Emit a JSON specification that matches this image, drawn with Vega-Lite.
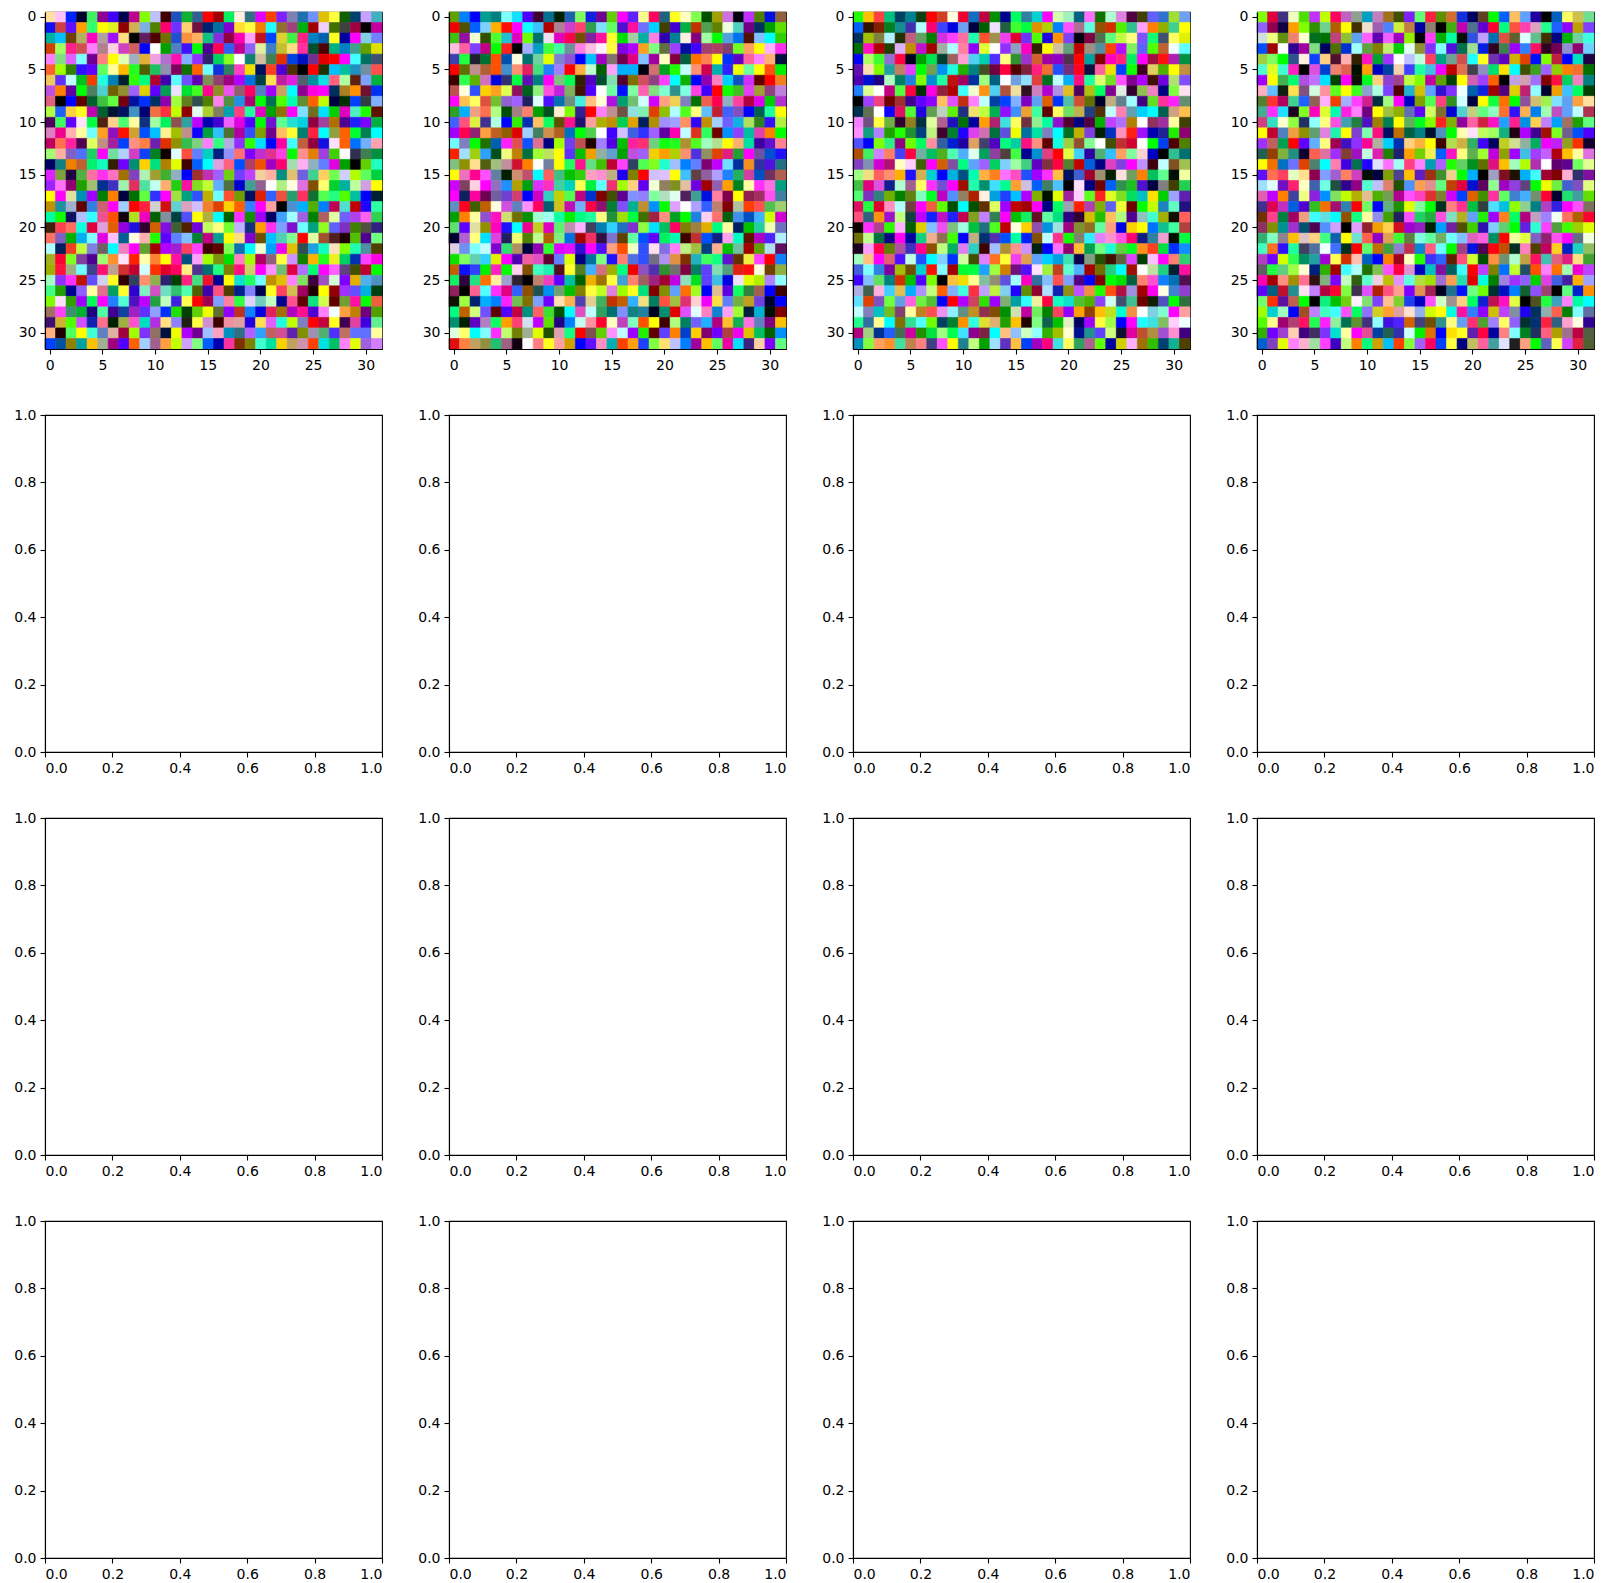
{
  "$schema": "https://vega.github.io/schema/vega-lite/v6.json",
  "background": "white",
  "padding": {"left": 13, "top": 9, "right": 5, "bottom": 4},
  "config": {
    "font": "DejaVu Sans",
    "view": {"stroke": "black", "strokeWidth": 1.1},
    "axis": {
      "labelFont": "DejaVu Sans", "labelFontSize": 14, "labelColor": "black",
      "tickColor": "black", "tickSize": 5, "tickWidth": 1.1,
      "domainColor": "black", "domainWidth": 1.1,
      "labelPadding": 4, "grid": false, "title": null, "labelAngle": 0
    }
  },
  "datasets": {
    "img": [
      {"p":0,"y":0,"c":["#ffe0a0","#ffc0ff","#0020ff","#000030","#40f060","#900090","#4000ff","#000050","#c00090","#80ff00","#c0c0ff","#400000","#2050c0","#10b030","#306090","#ff0000","#a00000","#00f060","#fff0e0","#307080","#e000ff","#ff4000","#8020ff","#8080b0","#2070b0","#7090ff","#e0c000","#ffff40","#106000","#004070","#c8a0ff","#40b0c0"]},
      {"p":0,"y":1,"c":["#1010f0","#d04040","#6010ff","#ffa000","#30ff70","#ffff00","#e0f020","#900000","#d0b050","#80b0e0","#508000","#ff0070","#7030ff","#ffd070","#701040","#002070","#0070a0","#8000d0","#ffe030","#ffff40","#f08000","#20ffff","#907030","#a04080","#00b010","#a00000","#f0d0ff","#407000","#404040","#a00040","#000000","#c000a0"]},
      {"p":0,"y":2,"c":["#00b0a0","#00c0ff","#704000","#b0b060","#ff00c0","#b0a0a0","#a010ff","#ffe080","#000000","#602060","#500000","#707000","#2050d0","#ff9040","#ffb060","#10c080","#8030e0","#900040","#ff00b0","#ffa0ff","#c01020","#0040ff","#e0d030","#40f040","#ff2080","#0080c0","#0060b0","#ffff20","#0000a0","#ff00ff","#80d0e0","#7080ff"]},
      {"p":0,"y":3,"c":["#d04000","#a0ff60","#ff2090","#d05050","#ff80ff","#b08090","#ffd0e0","#d040c0","#d06060","#0000ff","#ffffff","#00a000","#5080c0","#4010ff","#00ff00","#500090","#ff0050","#3060f0","#c00090","#9060ff","#e0f0a0","#4080c0","#c0c030","#ffe080","#ff30a0","#005030","#500000","#00b080","#0080c0","#40a090","#60a000","#e0e000"]},
      {"p":0,"y":4,"c":["#ff80ff","#80e080","#e060ff","#80ffff","#700090","#ff8080","#ffff00","#e0ffb0","#a0b0c0","#e0b030","#f0a0e0","#b070d0","#ff10b0","#80b0ff","#9030ff","#302070","#00d060","#80ff20","#ffffff","#108070","#d0c0a0","#408050","#e03000","#0040e0","#0010c0","#703090","#e00000","#ff0000","#ff00ff","#40ffff","#007060","#405070"]},
      {"p":0,"y":5,"c":["#ff6030","#a0ff00","#308000","#3010ff","#6000ff","#60ff60","#ffffa0","#ffb800","#20ff20","#506000","#20c060","#9090b0","#800060","#107000","#ff6000","#70ffff","#1030e0","#308060","#ff40c0","#f0e000","#001060","#ff4020","#5000d0","#503000","#000000","#ff0000","#203000","#00c0ff","#00c0a0","#2090c0","#7090a0","#ff5050"]},
      {"p":0,"y":6,"c":["#f0c860","#6030ff","#c0ffff","#00c020","#f04000","#20ffe0","#0080b0","#002030","#30ff00","#00ff80","#b00030","#4000b0","#60ffff","#7050ff","#6000b0","#809050","#904070","#a00080","#b000ff","#0070e0","#004040","#ffe050","#c020a0","#e020e0","#506070","#0090a0","#10e0e0","#ff6080","#b0ffa0","#602010","#80a0ff","#00b040"]},
      {"p":0,"y":7,"c":["#c050e0","#ff8000","#6000a0","#00ff00","#508060","#50d0d0","#706000","#909030","#a060ff","#e0d000","#6000ff","#00a050","#f0e0ff","#00e030","#40ff20","#ff0090","#909020","#f050f0","#906070","#ff0060","#5080c0","#a000ff","#d0a060","#00ffff","#900090","#ff00e0","#ff00ff","#003060","#b08020","#ff9000","#701030","#0030f0"]},
      {"p":0,"y":8,"c":["#e06080","#000000","#0000ff","#600000","#006030","#40c040","#60ff40","#700010","#0010a0","#0030ff","#003060","#9000b0","#a0ff40","#608020","#305050","#508000","#ff80f0","#509040","#2090e0","#b00070","#00ff00","#007050","#50ff00","#00ffb0","#609030","#ff6000","#c0ff00","#000040","#003000","#0040ff","#304040","#80b0ff"]},
      {"p":0,"y":9,"c":["#b0ff40","#2060ff","#ffd040","#ffff20","#c000b0","#006030","#001030","#001060","#4090c0","#000070","#f07040","#ff3040","#c0ff00","#900000","#e0fff0","#b0d030","#808060","#00a0b0","#ff4080","#20ffa0","#e000c0","#00a000","#907000","#ff00ff","#80e0ff","#707020","#00e0ff","#00d000","#e000c0","#50f0c0","#20ff00","#601000"]},
      {"p":0,"y":10,"c":["#500060","#40ff60","#6000ff","#ffe0ff","#00ff40","#502010","#ffd090","#50ff70","#ffffa0","#103080","#a0ffa0","#00f060","#905050","#30a0a0","#c000ff","#0000b0","#4000d0","#f060ff","#e000e0","#5000ff","#00ff00","#7010d0","#60ff90","#20e0d0","#00d0e0","#900040","#a040a0","#b07000","#500090","#2020ff","#8000ff","#00b040"]},
      {"p":0,"y":11,"c":["#e080c0","#f00090","#ffb0b0","#ffffa0","#70ffff","#ffa020","#9010c0","#ff1000","#d0a030","#0050ff","#00c0ff","#fff090","#a0c000","#c09090","#1000ff","#00a040","#30c0ff","#507030","#b000a0","#3050ff","#80a000","#700090","#ffc060","#ffff30","#008070","#ff2040","#00ffff","#90a040","#ff6000","#00ff30","#008050","#00ffff"]},
      {"p":0,"y":12,"c":["#c00060","#ff7050","#ff20a0","#500050","#e0ff60","#c09080","#a020a0","#0040ff","#ff9080","#ff8040","#7020b0","#e03000","#909000","#30c050","#80d080","#ff80ff","#30ff80","#b0b0e0","#9030ff","#30ff00","#00e0ff","#0000ff","#ff00a0","#40ffff","#c06040","#900040","#1010e0","#ffe0ff","#ff6000","#0070ff","#70b0ff","#ffa0b0"]},
      {"p":0,"y":13,"c":["#a0ff70","#ffb0a0","#8060c0","#5070ff","#20d060","#ff00ff","#70e0a0","#b0d0ff","#d040c0","#1040ff","#008020","#100000","#e0ffff","#ff5040","#6080ff","#00d0c0","#002080","#9090ff","#ff7070","#8000ff","#c030d0","#e03090","#ff40e0","#00ff00","#ff9090","#e08000","#a040e0","#40d000","#ffffff","#303050","#408050","#009040"]},
      {"p":0,"y":14,"c":["#000060","#108080","#f08000","#c06030","#00f070","#10ffc0","#302000","#7000ff","#009070","#ffd000","#00e080","#b08000","#e0ff00","#400000","#0060ff","#00ffff","#e0a0e0","#ff6080","#0050ff","#b04060","#f05000","#a000c0","#ff0070","#a0e0b0","#ffb0f0","#90b0c0","#6080ff","#e000e0","#00a000","#000000","#60d000","#20ffc0"]},
      {"p":0,"y":15,"c":["#e020ff","#80a040","#200040","#50b040","#ff70a0","#ff30f0","#ff70c0","#a07000","#8040c0","#b0f0b0","#a0a030","#40b030","#90b0c0","#0000ff","#a03030","#c030b0","#a060ff","#70d010","#7040ff","#c040ff","#f0d0a0","#ffb0a0","#009080","#e0c070","#7060e0","#40d090","#ffd060","#70ff50","#d0d0ff","#b0ff00","#60ff60","#00d040"]},
      {"p":0,"y":16,"c":["#a020ff","#ff70ff","#900070","#20a000","#a0c070","#003090","#4030c0","#a0f0b0","#e03060","#50e0a0","#c0fff0","#ffb070","#20d010","#ff10a0","#80e020","#c0ff30","#60b0ff","#507040","#0000d0","#40a090","#906090","#ffffff","#b0f080","#ffffe0","#e070e0","#805000","#ffff70","#00d030","#00b0a0","#c0ffa0","#d0a0e0","#ffff00"]},
      {"p":0,"y":17,"c":["#ffff00","#ff00ff","#e0e0a0","#0090b0","#a000ff","#008000","#ff8000","#000040","#007000","#60ff40","#3030ff","#ff00ff","#a0e040","#00a080","#3050ff","#c0b000","#70ffff","#ff5030","#70a000","#001060","#e02000","#3060ff","#f05040","#20a070","#ff3060","#107030","#50ff50","#20ff80","#50ff00","#00c0a0","#0000ff","#002030"]},
      {"p":0,"y":18,"c":["#c09000","#2090a0","#a0b0d0","#600000","#3080e0","#d06070","#ff00ff","#a0d0ff","#ff0000","#ff2040","#d0d0d0","#d01010","#60d0d0","#e0a0c0","#d0c0ff","#f08030","#e04000","#ffd000","#ff6000","#3080ff","#ff00ff","#ffa0a0","#000000","#5090d0","#00b0ff","#50b000","#0080ff","#c00050","#50e0d0","#c00000","#2000ff","#30ffa0"]},
      {"p":0,"y":19,"c":["#00ffa0","#10ff00","#101060","#b0c0ff","#30ffff","#f05090","#ff5000","#100010","#b0e020","#f000c0","#006000","#8090a0","#004040","#5050ff","#ffff00","#b0b040","#00ffff","#006000","#ff30ff","#109000","#a000ff","#000060","#40a0ff","#a0ffff","#a060e0","#008000","#b06060","#e0ffa0","#7060ff","#b040f0","#ff60f0","#30d050"]},
      {"p":0,"y":20,"c":["#402010","#ff4050","#ff7060","#10ffe0","#e00040","#e0a0e0","#e06000","#9000e0","#2010e0","#300030","#d06000","#8010e0","#406030","#502000","#7000e0","#c0ff60","#ffff80","#70ff30","#c0b0ff","#103080","#ffa000","#ff30f0","#80a0ff","#8010d0","#70ffff","#00a080","#90ff20","#6060ff","#8030c0","#408000","#505040","#302080"]},
      {"p":0,"y":21,"c":["#ff7060","#8060c0","#00b000","#00b0f0","#80ffff","#e000e0","#ffc0ff","#006090","#ffffe0","#ffb0b0","#20ff00","#6000ff","#6080ff","#80c0ff","#008030","#c00080","#00a090","#ffff00","#ffe080","#8000d0","#705000","#00c0ff","#50d0b0","#80ff90","#ff0000","#e0ffa0","#a05030","#502020","#200000","#50c000","#500090","#70ff80"]},
      {"p":0,"y":22,"c":["#b0ffff","#002060","#f04020","#c0ff40","#8080e0","#706060","#00ffff","#f080c0","#ff00ff","#60a030","#a00000","#b000ff","#a020d0","#ff4060","#ff40ff","#400000","#600000","#80ff50","#1070b0","#00ffff","#f0ffd0","#00a0ff","#f000f0","#e0c000","#305050","#20a0e0","#10ffc0","#ffe0c0","#80ff00","#20ffb0","#5090a0","#504000"]},
      {"p":0,"y":23,"c":["#a0b020","#ff0030","#80ff20","#8040a0","#500090","#a0ff70","#ff9030","#ffe0ff","#ff2000","#ffffb0","#ff8030","#ffff00","#ff10a0","#005080","#ffa0ff","#a0ff00","#809010","#00e000","#ff80c0","#a0ff00","#b00060","#906080","#ffff40","#d090ff","#108000","#ffb000","#20ff20","#f0f020","#00d060","#0030b0","#ff40ff","#ff00e0"]},
      {"p":0,"y":24,"c":["#a0b000","#ff1040","#a0b080","#70ffff","#404090","#ff1070","#c0a090","#d03030","#c00030","#d0ffff","#ff3000","#e00030","#ff0060","#fff080","#503090","#007070","#20ff80","#808000","#ff1080","#d0d060","#ff00ff","#ff90ff","#70c070","#e00040","#b070ff","#00ff70","#ff00ff","#ff60ff","#604080","#405000","#c00030","#00ff00"]},
      {"p":0,"y":25,"c":["#a0ffc0","#9030ff","#ff30ff","#c01000","#6050ff","#d0d0f0","#ffff20","#300000","#304060","#ff9070","#90b050","#302070","#004000","#ff2080","#40e080","#f01030","#000090","#ffff00","#10e0d0","#20ff60","#70ffff","#c09000","#e0c000","#ff80ff","#80e060","#400040","#a050c0","#d0ffd0","#8000ff","#e0b000","#50b0f0","#5090c0"]},
      {"p":0,"y":26,"c":["#40ff80","#20a000","#000090","#9060ff","#ffffa0","#e07090","#00a060","#ffff30","#3000d0","#80f0c0","#d050c0","#70e0c0","#30c070","#50ffb0","#506000","#4000b0","#ff5080","#504000","#002090","#8080ff","#000050","#ffff20","#ff4060","#d0c050","#a00060","#200000","#ffff00","#900000","#a030ff","#6050ff","#00b0e0","#004010"]},
      {"p":0,"y":27,"c":["#80ff00","#ffe0ff","#30a000","#a000ff","#00ff50","#ff00ff","#2080ff","#50ffd0","#5010c0","#c000ff","#20a040","#c0ffc0","#4020e0","#ffff50","#ff0000","#a00050","#80a0ff","#ff80a0","#30ff40","#e0d0ff","#70d0c0","#c0ffc0","#000090","#ff5090","#600000","#10e080","#d0ff50","#600000","#70a030","#ff10a0","#00ff00","#f06040"]},
      {"p":0,"y":28,"c":["#a07060","#ff40ff","#409070","#00b030","#200080","#50ffa0","#400090","#1040a0","#a020c0","#6030ff","#90a0ff","#0030ff","#20e000","#004000","#60d000","#f0ff00","#607030","#9000ff","#c03020","#1080ff","#0000e0","#e02060","#a07000","#b000c0","#ff1090","#5000d0","#ff80ff","#f0ffff","#ffa040","#c08000","#700080","#50a000"]},
      {"p":0,"y":29,"c":["#401070","#d0b030","#50ff00","#d050ff","#1020b0","#ff7090","#002000","#a0b040","#ff50d0","#00e0c0","#b030e0","#ffe080","#9080ff","#202010","#ffff40","#d090d0","#400000","#f090a0","#e0a0a0","#2000e0","#ffe050","#e060ff","#20ffe0","#c0ff00","#8080c0","#ff0000","#c00040","#ffff20","#400050","#e040a0","#4000e0","#60f090"]},
      {"p":0,"y":30,"c":["#ffb080","#200000","#50ff60","#ffff00","#40ffd0","#6080c0","#e0b0a0","#a00040","#a0ff00","#8030ff","#907060","#001040","#f0ff00","#b000ff","#700090","#a0c0ff","#ffa0c0","#0090c0","#307080","#b060ff","#30a0ff","#c06060","#d05090","#6020b0","#809000","#a090b0","#50b070","#5030ff","#c07060","#6070ff","#6070ff","#ffffa0"]},
      {"p":0,"y":31,"c":["#0040ff","#0050a0","#908000","#00a0a0","#ffc000","#a0b090","#a00080","#5000ff","#ff6000","#a0d0ff","#a06090","#ffa040","#c0ff00","#d0a0ff","#80ff80","#0060ff","#0000b0","#ff30a0","#803000","#808000","#40ffd0","#00e0a0","#ffd000","#c0a060","#d090b0","#ff4000","#00e0e0","#00c060","#ff80ff","#e0ff00","#a060e0","#d080ff"]},

      {"p":1,"y":0,"c":["#60a000","#0080ff","#0000ff","#00a090","#008080","#80ffff","#10e0ff","#5000ff","#400030","#007090","#002000","#2060b0","#80ff60","#1020e0","#700090","#60d000","#ff00ff","#6020ff","#ffff90","#ff0060","#206080","#ffff20","#ffffc0","#80ff50","#005000","#a0a000","#d070e0","#000010","#c030ff","#508000","#0010e0","#906040"]},
      {"p":1,"y":1,"c":["#f00000","#505000","#0060ff","#80d0ff","#ffb000","#ff1000","#ff00ff","#10ffff","#40c0ff","#b00000","#b08090","#d040d0","#ff4070","#30a050","#80e0ff","#60ff60","#5010d0","#ff10a0","#7070ff","#00d0ff","#404000","#4000d0","#00b040","#c03000","#50a050","#608000","#f0ffe0","#50d0c0","#700080","#003060","#00a000","#60e000"]},
      {"p":1,"y":2,"c":["#40c010","#9010a0","#f0ffd0","#305000","#50ff30","#20c0d0","#e000c0","#70ff00","#007070","#f0e0f0","#e000c0","#ff0050","#705000","#8020a0","#ff10a0","#ffff30","#00e000","#a0d0a0","#00b0a0","#ff80e0","#3000b0","#008090","#fff0e0","#800080","#a0ffa0","#00ff00","#50a0e0","#0070f0","#501000","#80c0ff","#00ffff","#30d000"]},
      {"p":1,"y":3,"c":["#ffc0e0","#ff60a0","#8040ff","#c00080","#00ff00","#ff2020","#000000","#a0b0ff","#00a0c0","#40ff40","#40ffa0","#7090a0","#ff80e0","#ffc0e0","#fff0ff","#ffff40","#8000e0","#b000ff","#ffa020","#80ff80","#607040","#a040ff","#0010a0","#4000ff","#a04070","#b04060","#804070","#70ff20","#ffa060","#ffff00","#ffb0ff","#ff30f0"]},
      {"p":1,"y":4,"c":["#4040b0","#20ff40","#202030","#007030","#ff5000","#0050b0","#ffffe0","#007070","#70d0a0","#e0ff00","#8080d0","#9050d0","#0000ff","#00c0ff","#a000c0","#807070","#700050","#e00080","#80c0ff","#a000a0","#ffffc0","#800040","#006040","#ff7000","#ff8050","#ffff00","#0030ff","#6000c0","#ff60a0","#ff80ff","#ffb070","#001040"]},
      {"p":1,"y":5,"c":["#ff0000","#607000","#c09090","#b06030","#ff5000","#4090d0","#ff9070","#e02060","#40e080","#2080ff","#a080ff","#ff0000","#ffb040","#c0ffd0","#006000","#ffa0ff","#00b0ff","#00b0ff","#000010","#d07070","#00a020","#20ff00","#c0ffff","#ff9070","#d00050","#00b0b0","#3020ff","#f0ff00","#70ffa0","#ffff00","#ff5010","#00f000"]},
      {"p":1,"y":6,"c":["#400000","#30ff50","#60b000","#d070c0","#0000e0","#303070","#00ff40","#6010b0","#008080","#ff00ff","#80c080","#00ff50","#302000","#5000c0","#005030","#80e0b0","#500030","#807000","#d05060","#904080","#ff40ff","#00ffff","#10b000","#0000ff","#9000b0","#ff80c0","#00d0ff","#1050c0","#d030ff","#600000","#ff0000","#f08020"]},
      {"p":1,"y":7,"c":["#c05050","#ffffe0","#3050ff","#ffd000","#ffa020","#e0ff50","#901060","#006020","#90f080","#ff50e0","#c020e0","#80b060","#401000","#5000ff","#ffffff","#70ffa0","#0010ff","#80ffa0","#ff60b0","#80e080","#80ffd0","#309090","#80ffe0","#ff40e0","#4000ff","#ff0000","#10ff00","#40c020","#e040f0","#a0a030","#904080","#c080e0"]},
      {"p":1,"y":8,"c":["#ff00ff","#ffc050","#ffff60","#e05040","#70c030","#9060d0","#a060ff","#202060","#e0ffff","#5010ff","#0070b0","#709080","#40f0e0","#ffc080","#ffffd0","#b010e0","#00a070","#70c070","#d0ffff","#d000ff","#ffa080","#f0d050","#8080c0","#007000","#f06050","#ff0050","#90b0c0","#ff40a0","#b00040","#e000f0","#00d000","#b030d0"]},
      {"p":1,"y":9,"c":["#30a020","#00b0ff","#f0a080","#ff7050","#b0ff80","#005000","#a08080","#ff8070","#00a000","#005020","#fff0d0","#80ff00","#302090","#ff0000","#ff80ff","#c09090","#705040","#90e0e0","#80f0b0","#e04000","#90c000","#b0ffff","#50ff20","#ffff80","#60c0ff","#c02030","#4060ff","#8050c0","#0000ff","#006050","#20ffa0","#ffff00"]},
      {"p":1,"y":10,"c":["#4060ff","#ff5080","#e0f040","#403090","#b0ffe0","#0000ff","#30f000","#0030b0","#ffc060","#10ff60","#605000","#ff1090","#201070","#ffa0a0","#b0b000","#c09000","#00d050","#e0a000","#002060","#b09000","#a090ff","#a0a0ff","#ff9060","#3000ff","#c09000","#a0d0ff","#7060ff","#10b0e0","#b0e060","#308020","#3010ff","#b0f040"]},
      {"p":1,"y":11,"c":["#a000ff","#ff0050","#902070","#ffa040","#c06020","#906000","#e00000","#a0d0ff","#408060","#d09050","#b06020","#0070c0","#00ff00","#50d050","#ffffff","#4000ff","#d0c0ff","#4060e0","#3030ff","#a060ff","#6000a0","#ff00b0","#c0ffff","#e03020","#30ff60","#700000","#0090ff","#9040ff","#00c0a0","#e040b0","#ff8000","#00ff00"]},
      {"p":1,"y":12,"c":["#70ffff","#8080c0","#00ff00","#207000","#0060b0","#ff20ff","#e05050","#1050ff","#e07090","#000080","#a0ff00","#7040f0","#c05050","#200000","#a080ff","#5000e0","#00c000","#ff20a0","#ff3070","#70d080","#10ff10","#20ff20","#b09030","#50ff20","#a0ffc0","#b0e090","#ffff00","#ffb070","#00e0a0","#4000a0","#6010d0","#ff8090"]},
      {"p":1,"y":13,"c":["#ff2000","#a0e0ff","#a0d010","#30a0ff","#005020","#f0ff80","#c08000","#007040","#a0ff30","#c0e060","#ffff00","#6030ff","#00c000","#f0a000","#90b0a0","#60a0d0","#00a000","#c050e0","#a060ff","#f0d000","#ffa000","#b0d000","#ff9070","#5030e0","#909060","#e04000","#e02080","#20a030","#ff00ff","#7050a0","#0050d0","#2010ff"]},
      {"p":1,"y":14,"c":["#80c080","#909000","#ffe090","#506010","#a0c080","#c090a0","#d01030","#ff8000","#ffffff","#7080a0","#ffff00","#20ff60","#ff1090","#60e080","#40c000","#c00030","#ff40ff","#304060","#50ff50","#80ff20","#20ffd0","#a0c0ff","#0080ff","#6080ff","#800070","#c000ff","#70e0ff","#0030a0","#f09020","#3030a0","#5010e0","#207080"]},
      {"p":1,"y":15,"c":["#ffff00","#f070c0","#ff0090","#ff50ff","#6080a0","#002000","#d09070","#c05070","#00ffff","#ff6060","#40c080","#00c000","#30d010","#ffa0c0","#ff90d0","#c0b080","#2000f0","#808000","#ff0000","#d0c0ff","#e0c0ff","#ffff00","#40c0ff","#604040","#9060a0","#b0a0ff","#2080ff","#20b060","#d040a0","#0050c0","#703060","#b06050"]},
      {"p":1,"y":16,"c":["#d000ff","#804060","#ffd0e0","#ff00ff","#9070c0","#2090ff","#b0a000","#00a010","#e030ff","#ff30c0","#40d0a0","#00d0c0","#ffff50","#00f040","#60ffff","#f03070","#a0ff00","#ffd080","#6000f0","#f0ffd0","#908060","#809020","#e0c0a0","#7000e0","#a00000","#9060b0","#ffa000","#008020","#ffffa0","#ff30ff","#ff70e0","#00a080"]},
      {"p":1,"y":17,"c":["#ff00ff","#102060","#ff00a0","#700050","#7060a0","#7040d0","#d04070","#0000ff","#d000c0","#30d0c0","#c0d000","#50ff50","#c00080","#0030d0","#800000","#405000","#600090","#8090ff","#9080ff","#80ffa0","#b0e0c0","#e0fff0","#502060","#40a090","#0010e0","#ff80a0","#800050","#ffff00","#902050","#a03060","#ff50f0","#4080a0"]},
      {"p":1,"y":18,"c":["#6090c0","#ff0020","#406000","#c06000","#ffffe0","#d050e0","#6080c0","#ff90ff","#ff0060","#006070","#d0c020","#c010b0","#70b0ff","#ff0040","#901070","#008030","#8050ff","#00b090","#c09030","#0090ff","#00ff00","#e0a0ff","#ffffff","#b0a0ff","#3060ff","#c08070","#800000","#b0c0a0","#ff4000","#ff5050","#50c050","#a0d070"]},
      {"p":1,"y":19,"c":["#00a000","#ff8000","#ffffa0","#9050d0","#ff10c0","#d0e070","#707000","#009000","#a0ffd0","#a0fff0","#10ffa0","#00f000","#00ff80","#20ffa0","#ffff80","#209040","#a0e000","#00ff40","#407000","#a02040","#ff9080","#00a020","#00ff00","#2080e0","#ffd0f0","#ff7070","#006010","#4090f0","#0050c0","#40b0ff","#d0ff00","#d000d0"]},
      {"p":1,"y":20,"c":["#60e070","#6000ff","#e0e0a0","#909000","#ff00c0","#2010ff","#00ffff","#f00090","#c0d020","#e000c0","#60f070","#c090b0","#ffb0ff","#404060","#0080b0","#30d0ff","#2070c0","#8030d0","#90ff40","#00e0ff","#00c060","#ff0060","#808000","#a08040","#e0b000","#00ff80","#ffffa0","#002060","#00c000","#20d0a0","#f0ffb0","#7070c0"]},
      {"p":1,"y":21,"c":["#000030","#b060d0","#ffff80","#00e0ff","#e040e0","#202060","#f0ff70","#508000","#c0ff90","#b06000","#80f080","#0070e0","#a00000","#f03060","#301040","#8070d0","#604000","#60ffa0","#0050ff","#6000ff","#00f060","#00ffb0","#400000","#c03030","#0050ff","#102080","#ffa0f0","#00ffc0","#601000","#b000c0","#5020ff","#b0f0ff"]},
      {"p":1,"y":22,"c":["#e0d0e0","#7090f0","#80ffff","#c0ffff","#8000d0","#30e070","#b09060","#000040","#9000b0","#30ff30","#e000ff","#e010ff","#3010d0","#ff00ff","#5010ff","#ffa080","#ff5000","#f0ffc0","#3050ff","#ffe0f0","#8070e0","#ff80ff","#c0f080","#a0c040","#004080","#ffb090","#00c000","#70c0a0","#a00000","#60a000","#b0e0f0","#601060"]},
      {"p":1,"y":23,"c":["#10e000","#80ff60","#60d0b0","#30d0ff","#e0f000","#ff00ff","#5000b0","#f060a0","#e050c0","#600030","#6080ff","#e0ff00","#000080","#0070a0","#80ff80","#2010ff","#ff8070","#5070e0","#3050ff","#707080","#b090f0","#e09040","#803000","#20b0c0","#40ff60","#10ff80","#6010d0","#603000","#f0f040","#ff40ff","#ff0000","#1080ff"]},
      {"p":1,"y":24,"c":["#c06000","#1010ff","#3040ff","#00f000","#ff20c0","#00ff00","#ffd0f0","#805000","#40ffc0","#20f0b0","#501020","#ffff30","#508020","#40b0ff","#d07080","#a0b000","#00ff80","#f00000","#9050c0","#5030b0","#309030","#707070","#800040","#008060","#6040ff","#80e0b0","#50a080","#e02010","#ff1010","#ffffe0","#704000","#90b040"]},
      {"p":1,"y":25,"c":["#10f060","#300040","#20e080","#ff7000","#fff0a0","#a0a0d0","#302030","#000000","#c08070","#f040c0","#6000ff","#00c0a0","#006000","#f0b000","#a07000","#ffff40","#40a0d0","#ff8070","#a06060","#a02080","#a00030","#c000e0","#90e0c0","#00e020","#6040ff","#40c0e0","#0000e0","#f0e0ff","#e0ff00","#b0f000","#b080ff","#90ffff"]},
      {"p":1,"y":26,"c":["#902060","#000000","#ff6090","#50ffff","#ff30ff","#e00080","#3060ff","#905000","#205050","#0090f0","#70a070","#00c000","#808000","#ffff40","#c0ff20","#e080e0","#a0ff00","#ffff20","#00e080","#800000","#809000","#60a0ff","#ff7000","#a0ff20","#0000ff","#e0c090","#6000e0","#10ff60","#308040","#a06050","#0000ff","#400000"]},
      {"p":1,"y":27,"c":["#101000","#a0ff40","#002070","#00b0ff","#0080ff","#ff20ff","#70c050","#807000","#80a0ff","#7000ff","#ffe0b0","#ffb050","#5040b0","#e0d090","#40b060","#c03000","#c06000","#30b0ff","#f0e080","#008060","#ff5040","#a0c040","#e03070","#ffd0d0","#f000ff","#ffe040","#6080ff","#70b040","#c0a020","#7040e0","#000030","#0000ff"]},
      {"p":1,"y":28,"c":["#00ff80","#c06000","#d0ff80","#7050ff","#600000","#5000ff","#c00040","#009080","#ff6060","#40e030","#005000","#00ffff","#e050c0","#c0ffff","#30a060","#007070","#8090ff","#108080","#2080a0","#000020","#009070","#e00000","#e050ff","#e0ffff","#ff80c0","#1080d0","#ffa0ff","#a0ff30","#002040","#00b0d0","#001000","#800000"]},
      {"p":1,"y":29,"c":["#009070","#002000","#6000c0","#b080c0","#10ff60","#ffa000","#ff4070","#d0e0f0","#c000ff","#60e000","#200080","#0080ff","#c0fff0","#ff90a0","#ff0030","#ffffc0","#c040c0","#80ffc0","#ff5000","#ffff00","#400000","#b0ff80","#008060","#7060ff","#20b0ff","#b00080","#ffc030","#10b050","#ff70e0","#6080c0","#800080","#ffc000"]},
      {"p":1,"y":30,"c":["#e0ffe0","#ffff70","#00ffff","#80ffff","#ff30ff","#c0ff70","#708000","#a0b090","#e0ff00","#205000","#e0a0b0","#10ff80","#ff0000","#805050","#60d000","#ff90ff","#c0ffff","#a000ff","#20f000","#600000","#6040ff","#ff8000","#0040d0","#ffd000","#800070","#7000ff","#b04040","#f000f0","#e0c000","#00c060","#006000","#0090ff"]},
      {"p":1,"y":31,"c":["#e01010","#ff8040","#c0a060","#909040","#20c070","#a06080","#100010","#ffffff","#ff8080","#ffff20","#ffa0a0","#d0a000","#0000ff","#6010ff","#ff90c0","#00b0b0","#ff4000","#ffa010","#2040ff","#80ff40","#ffe070","#c0c0ff","#0080ff","#a000a0","#ffc000","#60ff60","#f000a0","#00e0ff","#402080","#ffd0a0","#8000ff","#60ff80"]},

      {"p":2,"y":0,"c":["#20ff00","#ffc000","#ff4040","#00c080","#004060","#008090","#104010","#ff0000","#d04020","#ffffe0","#f00030","#1070c0","#c00040","#009000","#000090","#00ff60","#3080a0","#00d0d0","#ff00ff","#d0ffb0","#a0f0c0","#006080","#ff70ff","#107000","#b0ffd0","#e080e0","#500040","#404000","#6060ff","#3070d0","#a0e030","#70a0f0"]},
      {"p":2,"y":1,"c":["#0060ff","#301000","#802000","#008020","#109090","#4030b0","#b0ffff","#ff0070","#4040ff","#0000e0","#70a0f0","#000040","#006000","#f0e0ff","#206040","#40ff30","#00ff40","#e09000","#b0d000","#0080ff","#ff50ff","#b07090","#60ffe0","#905000","#d03000","#50f000","#30c090","#ffa0ff","#ff8000","#90b000","#40d090","#ffff00"]},
      {"p":2,"y":2,"c":["#003060","#a0c000","#808040","#b0f0ff","#203000","#c06080","#60a060","#008000","#d030e0","#ff40ff","#ff70a0","#20ffb0","#ff5030","#a09050","#f040f0","#e00030","#7030ff","#50ff00","#2000e0","#ff9000","#8040ff","#000010","#800040","#507050","#60ff80","#c0ff40","#ffff80","#8050ff","#10ff70","#405070","#ffff60","#e0f000"]},
      {"p":2,"y":3,"c":["#007000","#ff10c0","#b00000","#204000","#e0b0ff","#c09000","#c010d0","#a00000","#a0b0a0","#b0ffff","#ff80a0","#9000ff","#e0ff30","#ffffff","#9030ff","#90a0c0","#ff00c0","#302000","#ffff00","#d0c0a0","#60a080","#c00000","#a09080","#5090a0","#ff4000","#b010ff","#80f060","#6060ff","#50ff00","#c06030","#f0ffff","#60ffff"]},
      {"p":2,"y":4,"c":["#0000ff","#b0ff60","#40ff30","#9070d0","#ff0040","#000020","#00a000","#00e050","#004030","#a06060","#ffa0d0","#50d0f0","#00d0b0","#5030ff","#ffff80","#309030","#a030d0","#d06030","#a000a0","#9000c0","#503050","#ff0000","#00a0a0","#800000","#ff00c0","#ff2080","#00f060","#ff00ff","#a01040","#ff1010","#b020b0","#009040"]},
      {"p":2,"y":5,"c":["#6010b0","#ffe0b0","#80ff00","#20a0a0","#c08060","#e040ff","#00ff00","#70a050","#0090f0","#20ffe0","#20b000","#008080","#405020","#700040","#ff0040","#500000","#802040","#ff2080","#f07030","#2050ff","#703080","#ff0020","#101040","#ff60a0","#f0e000","#0040ff","#10ff00","#400020","#e0d060","#50b000","#ffff00","#c09040"]},
      {"p":2,"y":6,"c":["#5000b0","#0010d0","#200080","#b0ffc0","#008060","#2080e0","#80ff00","#0090d0","#20ffa0","#c01010","#a00060","#0030a0","#a0ff80","#006080","#ffffff","#70a0e0","#90e0ff","#e04040","#007020","#c0ffff","#00b0ff","#ff1080","#20ffa0","#e0ff70","#70e020","#ff50ff","#800090","#b000ff","#401000","#7000e0","#b0e070","#8050ff"]},
      {"p":2,"y":7,"c":["#2080ff","#e0ff90","#ffffff","#c00080","#50ff40","#ff0040","#003000","#ff00e0","#902040","#b00000","#40ffff","#f0ffd0","#ff9010","#50d0f0","#b05040","#f0e0a0","#301020","#d080c0","#b000d0","#b090e0","#e0c020","#500060","#b0c010","#00ff60","#800090","#e0f0e0","#300030","#90c050","#f080c0","#000080","#80ff40","#ffe0f0"]},
      {"p":2,"y":8,"c":["#000000","#a040ff","#f04080","#700000","#a03030","#400090","#6000ff","#9000ff","#ffc060","#e050ff","#c03010","#ff80ff","#c0ffff","#0040a0","#0040ff","#80b0ff","#8000c0","#60a0f0","#e06000","#0030ff","#50c0a0","#d05030","#607000","#000030","#c0b080","#608090","#a0ffff","#400080","#60e020","#ff30a0","#ff20ff","#609070"]},
      {"p":2,"y":9,"c":["#003050","#607050","#ffffff","#1000ff","#e01060","#50ff30","#2000e0","#60a050","#c0d0c0","#60f000","#203080","#f0e070","#c0ff40","#00b050","#9010ff","#4090ff","#f0a030","#40ffa0","#600000","#ffff60","#70e060","#c0b050","#204080","#503000","#c0ffff","#ff80b0","#60a0b0","#00d0ff","#00ffff","#006050","#d0a080","#ffc050"]},
      {"p":2,"y":10,"c":["#f080ff","#705080","#ffff40","#70b040","#300030","#908020","#003040","#e0ffa0","#b06090","#2010c0","#007000","#0000a0","#ffa000","#b02070","#40e0e0","#ffff60","#703040","#90f090","#00ffa0","#9010d0","#500030","#000080","#500040","#00b000","#c040ff","#b070ff","#b08000","#ffffff","#903060","#a030a0","#ffffa0","#404000"]},
      {"p":2,"y":11,"c":["#ff90ff","#10a080","#b080ff","#20a000","#20ff00","#209030","#004080","#c0f080","#400030","#008030","#2000ff","#e040f0","#d070b0","#007040","#6050e0","#f0ff00","#0070a0","#00e0a0","#8080c0","#00ffff","#007020","#c0b000","#8040e0","#002000","#0030c0","#ff90c0","#ff2010","#a010ff","#0000b0","#202090","#20f000","#900070"]},
      {"p":2,"y":12,"c":["#5050ff","#0000ff","#80ff00","#30f080","#900080","#70ff00","#00ff60","#ff90a0","#3060a0","#0020d0","#2000a0","#e0a060","#404070","#5000c0","#00ff80","#00d0a0","#ff1080","#ff9080","#600000","#10ffe0","#a0d040","#905030","#80ff90","#ffffff","#405000","#c03030","#d00030","#ffffff","#00ff00","#0040f0","#500000","#508000"]},
      {"p":2,"y":13,"c":["#b05000","#40f060","#d080ff","#ff8060","#4040ff","#ff0040","#70b0a0","#00c060","#50b020","#50ffb0","#50b0ff","#e0fff0","#00a060","#9040a0","#504040","#40ff40","#000090","#0090d0","#e04080","#ff0000","#e0ff40","#40d0ff","#3000a0","#50b070","#30c0ff","#ffa060","#80ffa0","#ffd0d0","#0000c0","#000000","#30c090","#007070"]},
      {"p":2,"y":14,"c":["#8040c0","#8090b0","#d000d0","#b01070","#ffffc0","#ffd0ff","#406000","#ff00ff","#d06000","#8050a0","#00ff80","#60a0ff","#a060ff","#00d060","#80d0ff","#a0ffa0","#40d080","#6000c0","#803040","#ff0040","#508030","#c00000","#0060e0","#000080","#e040c0","#8040e0","#ff00ff","#c090ff","#400010","#c0ffff","#805020","#a0c050"]},
      {"p":2,"y":15,"c":["#a0ff80","#f0e080","#ff6060","#ff9070","#ffb000","#2010ff","#d0b050","#00d0d0","#0000ff","#00b0e0","#005080","#00ffb0","#ffb040","#ff8020","#ff70ff","#ff50c0","#2050ff","#a000ff","#ff30ff","#ffc040","#001060","#4060d0","#a00030","#a09070","#002000","#ffe0e0","#70a060","#ff8000","#00c060","#60ff90","#001008","#f0ffa0"]},
      {"p":2,"y":16,"c":["#40c040","#e00080","#e050e0","#102090","#b0ffd0","#a06090","#ffff60","#ff30ff","#7050d0","#ff00ff","#a01000","#20ffb0","#009070","#40e0ff","#00ff90","#ffa030","#d0c0e0","#0060ff","#408060","#50c0ff","#000000","#ffe0ff","#000080","#700000","#0060ff","#309050","#20c020","#5010d0","#000040","#808080","#404000","#20d050"]},
      {"p":2,"y":17,"c":["#50ff70","#8030c0","#308080","#70b000","#008000","#608010","#80ffc0","#00ff20","#c000c0","#5090ff","#908060","#b02000","#fff0e0","#00a0e0","#2040ff","#00c0ff","#b000ff","#80b000","#001000","#e0ff00","#a020a0","#ffd0ff","#60ff20","#ff2020","#e0ff20","#80e020","#00e060","#00c0c0","#ffe000","#00d000","#a0a0ff","#6020b0"]},
      {"p":2,"y":18,"c":["#e01060","#20ff40","#e00030","#ff90c0","#b0ffff","#704040","#ff00ff","#f06040","#60ff00","#005000","#00ffff","#005000","#603000","#e0ff60","#a000ff","#c00000","#a00000","#ff00ff","#000080","#00ff60","#a0a0b0","#ff2000","#b040b0","#80b000","#6060f0","#f0ff30","#700000","#00ff00","#c0ff00","#2080c0","#60ffc0","#201080"]},
      {"p":2,"y":19,"c":["#ff5080","#306080","#ff9010","#a010d0","#c0ff80","#104040","#c000ff","#1020ff","#c010c0","#2020ff","#c00050","#80a020","#c080ff","#308050","#ff00ff","#00c000","#10f060","#601020","#60ffa0","#00e080","#300080","#300030","#d0c000","#20c000","#ffc060","#b0ff80","#500090","#90c0c0","#40ffd0","#a0b000","#101000","#ff6060"]},
      {"p":2,"y":20,"c":["#100000","#ff30ff","#b04090","#30ff00","#ffb0ff","#006000","#e0d000","#80c0ff","#f050f0","#80c080","#a0ffe0","#00c040","#207080","#50ff20","#c00000","#ffffe0","#ffd000","#9050b0","#0090e0","#a0e0e0","#a00080","#809030","#907020","#60ffa0","#ffa080","#0000e0","#ffd000","#ffff00","#0070ff","#10c090","#40ffa0","#b04040"]},
      {"p":2,"y":21,"c":["#707000","#c0ff90","#007040","#100080","#ff00f0","#0000a0","#10d080","#f0b090","#907050","#40ff00","#0000ff","#c0b080","#003070","#5030b0","#0050ff","#00ffa0","#0020ff","#805000","#c0ffff","#ff3090","#10ff00","#808070","#30f0ff","#e080ff","#ff90d0","#ff50e0","#ff0070","#102080","#3080a0","#f0a0d0","#001000","#00ff40"]},
      {"p":2,"y":22,"c":["#200020","#ffa0ff","#ff0050","#608000","#b050a0","#4030c0","#ff0090","#905000","#c0ff80","#00b060","#e080f0","#30d0c0","#400000","#a0c0ff","#b09030","#ff9090","#d090ff","#002010","#0000ff","#ff70ff","#900070","#ffc030","#00a050","#70ff80","#20ffd0","#60d040","#00ff20","#ff9020","#ff4020","#00e040","#0030ff","#1090ff"]},
      {"p":2,"y":23,"c":["#a0ffc0","#ffc080","#ff00ff","#e06070","#5010ff","#c0ffe0","#2050ff","#00ffff","#80d0ff","#0030ff","#d0ffa0","#405000","#e080ff","#ff7020","#ffff30","#f040f0","#e0a050","#60a0ff","#00d0ff","#00a0e0","#40e0b0","#100050","#80a080","#205000","#401000","#606040","#e040ff","#004000","#ffc0ff","#ff00ff","#ff8070","#30d070"]},
      {"p":2,"y":24,"c":["#4060e0","#80ffff","#3080e0","#8000a0","#a0c000","#705000","#00d0d0","#ff1000","#80ffff","#a00000","#00ff30","#00ff40","#20a0ff","#a0ff40","#d08000","#701080","#5010ff","#ffe0ff","#a0f040","#c04020","#60ffd0","#50b0ff","#a00000","#707000","#20d080","#00ffff","#a01000","#ffffff","#c0e0a0","#20d080","#002030","#ff10a0"]},
      {"p":2,"y":25,"c":["#4000ff","#80c0ff","#60e060","#008080","#d03000","#00c000","#5000ff","#80ff00","#000000","#ffc040","#f0e000","#ffff90","#80c0a0","#909070","#6050e0","#a0ffff","#ff00c0","#3070a0","#80c0ff","#ff5050","#80a0ff","#500080","#0000ff","#800000","#00ff00","#00e000","#006040","#ff8070","#ff50d0","#1080ff","#0070b0","#501050"]},
      {"p":2,"y":26,"c":["#b0b0e0","#406050","#ffb0e0","#40d0ff","#e0c050","#00b0ff","#b090ff","#c0ff80","#ff6000","#80b0ff","#40ffe0","#ff3040","#c0a0ff","#c0f040","#80d0f0","#2000ff","#609000","#900030","#b0e0ff","#1020b0","#909010","#c050ff","#f09040","#20ff00","#ff5010","#b01040","#a090e0","#a00000","#ff00f0","#ffffe0","#4080d0","#9040d0"]},
      {"p":2,"y":27,"c":["#60e0ff","#e04000","#8050c0","#70ff40","#60a0e0","#ff60e0","#70f040","#50c030","#0000ff","#ff0000","#b000ff","#d04060","#30e000","#a000ff","#80b070","#00a0a0","#30ffff","#f0f0a0","#ff0040","#10ffc0","#10e0d0","#50c030","#50b000","#9040ff","#d0fff0","#405070","#40c090","#700000","#102000","#5050c0","#00ff00","#307040"]},
      {"p":2,"y":28,"c":["#c0ffff","#8080c0","#00c0c0","#70c020","#804070","#ffffa0","#c08020","#ff5050","#f090f0","#90f0ff","#609080","#c09020","#903050","#805000","#009000","#d0e0b0","#c000a0","#70f060","#008000","#ff4060","#9000ff","#ffa000","#904000","#ffc000","#c0e020","#00ffd0","#f09040","#ffffff","#80d0e0","#80ffd0","#ff00ff","#ffa0a0"]},
      {"p":2,"y":29,"c":["#20ff90","#3070a0","#ffff90","#00ffff","#807000","#30e090","#50ffff","#70ff00","#004060","#008030","#ff9000","#30ffe0","#e0e030","#e0b070","#20a000","#ffc000","#200000","#80ff80","#106050","#00c000","#e0f0c0","#000060","#a000ff","#ffff40","#a0ff40","#0000ff","#ff00ff","#20ffff","#40e0e0","#80c060","#ffd0ff","#f0ffff"]},
      {"p":2,"y":30,"c":["#b00080","#a0d080","#003090","#2060ff","#407050","#d000a0","#209000","#00e040","#a0ff80","#00ff50","#40e0ff","#900090","#802040","#00ffff","#ffc080","#90c0ff","#d0ffc0","#90ffff","#30b000","#a0c000","#ffffd0","#001090","#209090","#6040ff","#d0ff80","#101030","#e000a0","#c05030","#b09040","#a050d0","#ff90d0","#400080"]},
      {"p":2,"y":31,"c":["#0090c0","#80ff40","#ffa060","#ff9030","#40e0a0","#c08050","#ff8080","#404080","#ff50ff","#ffff00","#208090","#c0ff80","#00a000","#a0e0ff","#6030c0","#ffc040","#0040ff","#a000c0","#ff0080","#40e0e0","#ffff60","#30a060","#b06090","#60ff00","#0000a0","#d0d000","#ffb0ff","#a07000","#30c000","#004070","#10b090","#504000"]},

      {"p":3,"y":0,"c":["#80ff00","#e00040","#403080","#f0ffc0","#50e000","#c030ff","#c0ff00","#ff0060","#c060c0","#90a090","#00a0c0","#c080c0","#a07020","#405000","#8020ff","#60ff70","#ff2040","#609000","#d07030","#1030e0","#000060","#604020","#00ff00","#0060ff","#ffc060","#60a0ff","#2000a0","#000000","#0060c0","#ffff60","#d0c050","#70e090"]},
      {"p":3,"y":1,"c":["#9060ff","#900050","#100040","#ffa000","#80ff00","#309000","#70d090","#b06000","#ffff00","#403000","#f0e0d0","#a060b0","#5080ff","#d0f040","#c08040","#0000a0","#908070","#000000","#40b010","#c000b0","#507090","#6000d0","#ff0030","#00ff80","#ff5040","#ff40b0","#e0a0c0","#20ff90","#2060ff","#9000ff","#c0a000","#8040ff"]},
      {"p":3,"y":2,"c":["#d0e0e0","#f0ff80","#609010","#f08070","#ffffd0","#007020","#007000","#c04080","#90c030","#60a0f0","#ff60ff","#6000b0","#f060ff","#a000c0","#90f000","#000000","#ff40ff","#00b000","#00ffa0","#001000","#3050e0","#c0a0ff","#0070b0","#e05040","#606030","#e0ffff","#60c090","#403000","#000080","#00b000","#70d0a0","#40ffe0"]},
      {"p":3,"y":3,"c":["#0050ff","#a00000","#ffffff","#300090","#a000a0","#80e080","#000060","#507000","#0030d0","#a0ffff","#60a040","#808000","#c0f070","#00d000","#e0fff0","#909030","#8030ff","#80ffff","#5010e0","#007050","#a0e090","#0020e0","#300020","#408050","#a000ff","#3080ff","#ff1060","#300020","#700050","#9090d0","#900070","#70d0ff"]},
      {"p":3,"y":4,"c":["#a0d040","#80ff60","#00ff00","#305090","#fff0e0","#1040ff","#ffd080","#501030","#ffb0b0","#302000","#ff10c0","#00a030","#a030ff","#ffffff","#c0c0ff","#c0ffe0","#ff4060","#00a080","#70a090","#d05050","#20ffff","#ffff20","#7030b0","#6000c0","#d0b000","#e04000","#0010ff","#80ff00","#c02040","#0000ff","#00e0c0","#200040"]},
      {"p":3,"y":5,"c":["#50ffd0","#e0ff20","#40ffd0","#ff20c0","#000000","#e050e0","#0040d0","#f08070","#e06050","#001000","#ffa000","#0000c0","#0040a0","#f0d0b0","#4040ff","#20ffa0","#40c0e0","#f000ff","#c00000","#e07050","#404050","#9090c0","#00e070","#ffe000","#00ffff","#405000","#40a020","#a060ff","#90d000","#ff8000","#f07030","#007000"]},
      {"p":3,"y":6,"c":["#a000ff","#ffff00","#40b050","#00ff70","#b050e0","#c070ff","#00e0ff","#004000","#ff00ff","#101000","#00ff20","#ffd080","#9040d0","#a04090","#c0ff40","#80ff00","#c000a0","#60a000","#004000","#ffff00","#d060b0","#a040ff","#ff6000","#000000","#c0a0e0","#d0a0b0","#a070ff","#800000","#ff1040","#00d060","#f080c0","#008080"]},
      {"p":3,"y":7,"c":["#ffb0c0","#60c0ff","#102010","#ffe050","#805080","#d0ffe0","#ff90a0","#60ff20","#ffff00","#40ff20","#90a0d0","#b0ffe0","#8040ff","#500000","#20b0d0","#d0c000","#60a0ff","#3010d0","#8030ff","#f0ffff","#0060b0","#1020e0","#a00000","#500080","#e0d000","#c02070","#90ffff","#000030","#f0a000","#40c0ff","#00ff60","#004000"]},
      {"p":3,"y":8,"c":["#508030","#ff3030","#b00060","#40d090","#2060ff","#906050","#ffb0ff","#f04000","#a0b0ff","#ff40ff","#d02090","#003040","#a0ff80","#ff00ff","#0000c0","#80a000","#50ff50","#ff4080","#309020","#d0ffff","#000040","#ffff00","#10ff40","#ff7000","#00ff00","#9050a0","#d0c070","#a0f050","#80e0ff","#60a0f0","#ffa040","#ffe0a0"]},
      {"p":3,"y":9,"c":["#40b090","#ff30ff","#20e0ff","#200020","#80ff20","#ff00c0","#e0ff30","#00ffb0","#ff20e0","#ff80ff","#700080","#ffff00","#a0c040","#90b000","#6070b0","#6000ff","#d0ff60","#807030","#0000d0","#50d0d0","#c0d080","#60ff80","#90ffc0","#ff7030","#3010ff","#ffb050","#0080f0","#a0ffb0","#c050c0","#60a0ff","#c0ffff","#b03050"]},
      {"p":3,"y":10,"c":["#d04080","#30e0c0","#ffffd0","#90ff40","#203060","#90ffff","#ffff80","#ff50e0","#40a0b0","#208040","#5010c0","#a08000","#008050","#ffff00","#60b060","#00ff20","#80ff00","#ff2020","#80b000","#9000a0","#ff60a0","#d02040","#ff10c0","#20a0ff","#ff2090","#0090e0","#ffd050","#c080ff","#00a0ff","#a07060","#20a000","#60ff80"]},
      {"p":3,"y":11,"c":["#ffff00","#c00030","#5080c0","#f0a040","#909000","#60a070","#e080e0","#20f0b0","#ffff00","#8040d0","#80ffb0","#ff1080","#001060","#c07000","#006040","#008080","#001030","#5090c0","#00ff00","#ffffb0","#ffe0ff","#c0ff60","#a0ff60","#10b080","#200010","#b000ff","#400090","#a01000","#80ff20","#706090","#0050ff","#5000ff"]},
      {"p":3,"y":12,"c":["#a030ff","#c06060","#00a050","#ff0000","#6000ff","#60b0ff","#ffff80","#a00050","#4010c0","#9030ff","#ff0090","#b0b0a0","#00d0ff","#0030b0","#ffd080","#ffb040","#ffff00","#400000","#b0e050","#d0b040","#30b060","#4000ff","#000060","#c0d020","#d0e090","#90b0a0","#00b060","#f000ff","#c020ff","#90a020","#ff3000","#100030"]},
      {"p":3,"y":13,"c":["#206050","#904000","#80b040","#209080","#100030","#ff6050","#e070a0","#a030ff","#804030","#a010c0","#c0ffe0","#e020b0","#208000","#202070","#ffa000","#70d000","#f0f050","#0060ff","#ff10c0","#ffff80","#60b050","#a0ff30","#c000e0","#90a000","#a000ff","#40c0e0","#a040ff","#c060ff","#b00010","#ffc000","#ffffa0","#e070e0"]},
      {"p":3,"y":14,"c":["#ffff00","#f07000","#0070c0","#7070ff","#e04000","#508070","#00ffff","#ff80b0","#4000e0","#007050","#2000ff","#e0e0ff","#ff70ff","#a0fff0","#ff4080","#ff80ff","#00a0b0","#b060ff","#20ff00","#60d060","#009020","#607000","#e01080","#ffc000","#a0ffc0","#b0ff00","#b030b0","#ffffff","#600070","#600090","#70ff60","#e0ff90"]},
      {"p":3,"y":15,"c":["#6010ff","#ff7050","#ff4060","#e0ffc0","#ffe090","#900050","#80a0ff","#a060d0","#ff8060","#d040c0","#001000","#000040","#80a000","#504090","#ffc000","#6020c0","#a03010","#409030","#f0d090","#00ff00","#00b0ff","#000000","#a0a0c0","#801020","#201000","#00b0ff","#40ffff","#a00030","#800000","#ffb0d0","#303070","#8010a0"]},
      {"p":3,"y":16,"c":["#a0e0ff","#e0ffff","#7010c0","#ff2070","#ffffc0","#4060b0","#70ffe0","#205040","#300090","#900080","#50ffd0","#c0c0ff","#e08070","#205000","#5090ff","#ffa050","#e09090","#60ff80","#c04000","#e00040","#0010d0","#600060","#90ff90","#a000c0","#9040e0","#604080","#00ff00","#f0ff00","#70f040","#4060d0","#8050c0","#e0ff80"]},
      {"p":3,"y":17,"c":["#e060b0","#c000ff","#ff8000","#4040a0","#f0ff80","#9020e0","#0090ff","#80e060","#c0ff00","#b0b000","#e0c090","#50b000","#70a050","#b00090","#ff50ff","#ff40c0","#e03030","#808030","#d000ff","#0040ff","#e06000","#409000","#ff30a0","#60ff60","#4080d0","#40b0ff","#709070","#ff0030","#000030","#20e070","#40a0a0","#60e000"]},
      {"p":3,"y":18,"c":["#403090","#e00050","#c030c0","#0060e0","#5000d0","#30c020","#f07000","#a01070","#3080b0","#ff0000","#70ff60","#0000ff","#60b080","#209000","#e0ff00","#80ffa0","#00ff00","#003020","#ff8080","#ff3090","#00c040","#304040","#50e0ff","#00c0e0","#90ff00","#90d090","#008080","#b040c0","#3020e0","#ff00ff","#ff50ff","#807060"]},
      {"p":3,"y":19,"c":["#703000","#ff4090","#008040","#a00060","#f0a080","#40ffff","#60e0e0","#00ffff","#905000","#10ff80","#ffffa0","#9090f0","#40a000","#202060","#ff50ff","#20d060","#20b040","#ff50e0","#80e0c0","#b0b020","#60a0ff","#20f000","#a000ff","#ff8020","#00ff60","#b00080","#c0a0c0","#a080ff","#f0fff0","#ff7060","#b06000","#ff0030"]},
      {"p":3,"y":20,"c":["#903060","#809000","#009090","#a030d0","#005070","#500050","#5090ff","#d0a0ff","#000000","#e0a0ff","#902030","#f0a000","#ffd050","#d01020","#a000d0","#9020c0","#002000","#00a0ff","#7020a0","#505000","#40d000","#3010b0","#80d0ff","#60d070","#00ff00","#6020e0","#30ffd0","#ff40ff","#50a040","#40ff00","#a0d000","#e0ff00"]},
      {"p":3,"y":21,"c":["#30b070","#80ffc0","#908090","#ffc000","#e0c0c0","#ffd080","#40ff80","#1060b0","#ffff00","#70e0d0","#ff6050","#9000c0","#e0a050","#40ff30","#608040","#80ffe0","#60ffa0","#70b060","#70ffff","#80c0ff","#e060c0","#ff60e0","#009060","#ff0000","#f0ffa0","#e0ff40","#8060c0","#902070","#ff50f0","#ff00ff","#607080","#f0ffe0"]},
      {"p":3,"y":22,"c":["#40ffc0","#ff7020","#3010ff","#20ffa0","#404060","#5070a0","#f0ffff","#4070ff","#003020","#ff0000","#60ff70","#c07000","#40a040","#9080d0","#c03050","#1080d0","#ff6080","#70ffff","#00ff00","#a04080","#0010e0","#500050","#ff0010","#c05000","#003020","#ff80c0","#504000","#c00060","#ffd020","#0020c0","#20d0c0","#90c060"]},
      {"p":3,"y":23,"c":["#b040c0","#7000ff","#d0ff00","#30ff50","#009060","#20a0a0","#a000d0","#ffff50","#d03000","#ffc0b0","#0060c0","#0000ff","#ff8000","#a00020","#ffffc0","#20ff00","#4030ff","#3060ff","#602000","#ff5080","#d0ff30","#005000","#ff9040","#709070","#b0ffd0","#c0a040","#ff1060","#40c0b0","#e06080","#e02080","#ffe080","#40a030"]},
      {"p":3,"y":24,"c":["#606060","#20ff40","#60d080","#a0ff40","#ffffd0","#002080","#30b000","#a00000","#40ffff","#b0ffff","#207000","#80c050","#ff50ff","#ff0040","#e090d0","#0000c0","#00c0c0","#8010a0","#006060","#40ffff","#ff0000","#c040ff","#808000","#0070ff","#c0ff30","#205060","#ff5000","#ff80ff","#ff7000","#a0ffb0","#f000d0","#c040ff"]},
      {"p":3,"y":25,"c":["#ff00b0","#a00000","#ff9080","#a09000","#ff7090","#301010","#80b080","#8000ff","#c0ffc0","#306010","#60ffd0","#f0d0e0","#c0c000","#e090ff","#60ffe0","#b0e040","#a0e000","#a070d0","#ffa050","#20e0b0","#e00000","#00ffe0","#008000","#a080e0","#a030ff","#9060ff","#00d000","#e040e0","#4060e0","#4020a0","#ffb000","#a0a0ff"]},
      {"p":3,"y":26,"c":["#6000ff","#006080","#c01030","#209090","#ffe0f0","#c080ff","#b00040","#ff0030","#80ff40","#403050","#e050ff","#b02000","#ff5080","#ffa090","#8000ff","#e09050","#a02050","#000020","#207090","#0010ff","#70ff80","#70ff00","#003030","#0010c0","#0080ff","#106030","#9050ff","#a04070","#000000","#60ff80","#0020d0","#ff9000"]},
      {"p":3,"y":27,"c":["#70ff70","#ff3000","#6010a0","#c06050","#00ff00","#000000","#10f080","#00c000","#70d010","#fff0ff","#80e070","#8040ff","#ffc090","#80d030","#2040f0","#0000c0","#ff50ff","#d0ffc0","#a09090","#ffd080","#00ff60","#1020d0","#c01050","#ff10c0","#e0ff40","#000000","#505020","#20ff40","#40a0c0","#ff80ff","#00ffa0","#00ffff"]},
      {"p":3,"y":28,"c":["#a0ff00","#00d0d0","#a0ffc0","#0000ff","#a05020","#c080ff","#40ffc0","#40ffff","#ff50ff","#00ff60","#9070ff","#d0d020","#ffa030","#e0a0a0","#ffe0d0","#90b0f0","#d0ff00","#ffff00","#00ffe0","#ff10a0","#3080ff","#9000ff","#d0c000","#c040ff","#8090a0","#2000f0","#003060","#90b0b0","#ff6050","#008000","#80ffff","#6070a0"]},
      {"p":3,"y":29,"c":["#50ff00","#ffff90","#a00070","#b04070","#ff1060","#20ff50","#ff20ff","#90f0a0","#007050","#609030","#403080","#90ffff","#4010e0","#5020ff","#d06000","#404080","#705000","#309090","#ffff80","#60a0f0","#ff3070","#50a030","#a080ff","#ffff60","#9060ff","#003030","#003070","#ff2040","#306080","#ffa0d0","#ffffe0","#300090"]},
      {"p":3,"y":30,"c":["#30b000","#7000ff","#a040d0","#ffd0b0","#400080","#403060","#8030ff","#00e0d0","#ffffa0","#ff00ff","#e05090","#0040a0","#206050","#3030b0","#d0ffff","#00f000","#e07000","#0000ff","#ffe000","#ffff20","#6020b0","#ff0040","#0000a0","#ff8080","#80ffff","#008020","#203060","#ff6080","#b0a000","#a07090","#c00040","#506040"]},
      {"p":3,"y":31,"c":["#0060d0","#8040c0","#e0ff00","#ff80ff","#ffb0d0","#a0e0a0","#ff40ff","#4000c0","#c0ff80","#ff8000","#00ff80","#d0a000","#00c0ff","#ff4000","#80ff40","#a060ff","#ff0060","#0040ff","#ffff40","#000080","#c0c060","#ff60a0","#40a0a0","#e0e0ff","#202020","#ffa080","#00ff00","#6060c0","#ffff50","#d040ff","#e02040","#506030"]}
    ]
  },
  "columns": 4,
  "spacing": {"row": 66, "column": 67},
  "bounds": "flush",
  "concat": [
    {
      "width": 337, "height": 337,
      "data": {"name": "img"},
      "transform": [
        {"filter": "datum.p == 0"},
        {"flatten": ["c"], "as": ["color"]},
        {"window": [{"op": "row_number", "as": "x"}], "groupby": ["y"]},
        {"filter": "datum.x <= 32"}
      ],
      "mark": {"type": "rect", "strokeWidth": 0.6},
      "encoding": {
        "x": {"field": "x", "type": "ordinal", "scale": {"domain": [1,2,3,4,5,6,7,8,9,10,11,12,13,14,15,16,17,18,19,20,21,22,23,24,25,26,27,28,29,30,31,32], "paddingInner": 0, "paddingOuter": 0}, "axis": {"values": [1,6,11,16,21,26,31], "labelExpr": "'' + (datum.value - 1)"}},
        "y": {"field": "y", "type": "ordinal", "scale": {"domain": [0,1,2,3,4,5,6,7,8,9,10,11,12,13,14,15,16,17,18,19,20,21,22,23,24,25,26,27,28,29,30,31], "paddingInner": 0, "paddingOuter": 0}, "axis": {"values": [0,5,10,15,20,25,30]}},
        "fill": {"field": "color", "type": "nominal", "scale": null},
        "stroke": {"field": "color", "type": "nominal", "scale": null}
      }
    },
    {
      "width": 337, "height": 337,
      "data": {"name": "img"},
      "transform": [
        {"filter": "datum.p == 1"},
        {"flatten": ["c"], "as": ["color"]},
        {"window": [{"op": "row_number", "as": "x"}], "groupby": ["y"]},
        {"filter": "datum.x <= 32"}
      ],
      "mark": {"type": "rect", "strokeWidth": 0.6},
      "encoding": {
        "x": {"field": "x", "type": "ordinal", "scale": {"domain": [1,2,3,4,5,6,7,8,9,10,11,12,13,14,15,16,17,18,19,20,21,22,23,24,25,26,27,28,29,30,31,32], "paddingInner": 0, "paddingOuter": 0}, "axis": {"values": [1,6,11,16,21,26,31], "labelExpr": "'' + (datum.value - 1)"}},
        "y": {"field": "y", "type": "ordinal", "scale": {"domain": [0,1,2,3,4,5,6,7,8,9,10,11,12,13,14,15,16,17,18,19,20,21,22,23,24,25,26,27,28,29,30,31], "paddingInner": 0, "paddingOuter": 0}, "axis": {"values": [0,5,10,15,20,25,30]}},
        "fill": {"field": "color", "type": "nominal", "scale": null},
        "stroke": {"field": "color", "type": "nominal", "scale": null}
      }
    },
    {
      "width": 337, "height": 337,
      "data": {"name": "img"},
      "transform": [
        {"filter": "datum.p == 2"},
        {"flatten": ["c"], "as": ["color"]},
        {"window": [{"op": "row_number", "as": "x"}], "groupby": ["y"]},
        {"filter": "datum.x <= 32"}
      ],
      "mark": {"type": "rect", "strokeWidth": 0.6},
      "encoding": {
        "x": {"field": "x", "type": "ordinal", "scale": {"domain": [1,2,3,4,5,6,7,8,9,10,11,12,13,14,15,16,17,18,19,20,21,22,23,24,25,26,27,28,29,30,31,32], "paddingInner": 0, "paddingOuter": 0}, "axis": {"values": [1,6,11,16,21,26,31], "labelExpr": "'' + (datum.value - 1)"}},
        "y": {"field": "y", "type": "ordinal", "scale": {"domain": [0,1,2,3,4,5,6,7,8,9,10,11,12,13,14,15,16,17,18,19,20,21,22,23,24,25,26,27,28,29,30,31], "paddingInner": 0, "paddingOuter": 0}, "axis": {"values": [0,5,10,15,20,25,30]}},
        "fill": {"field": "color", "type": "nominal", "scale": null},
        "stroke": {"field": "color", "type": "nominal", "scale": null}
      }
    },
    {
      "width": 337, "height": 337,
      "data": {"name": "img"},
      "transform": [
        {"filter": "datum.p == 3"},
        {"flatten": ["c"], "as": ["color"]},
        {"window": [{"op": "row_number", "as": "x"}], "groupby": ["y"]},
        {"filter": "datum.x <= 32"}
      ],
      "mark": {"type": "rect", "strokeWidth": 0.6},
      "encoding": {
        "x": {"field": "x", "type": "ordinal", "scale": {"domain": [1,2,3,4,5,6,7,8,9,10,11,12,13,14,15,16,17,18,19,20,21,22,23,24,25,26,27,28,29,30,31,32], "paddingInner": 0, "paddingOuter": 0}, "axis": {"values": [1,6,11,16,21,26,31], "labelExpr": "'' + (datum.value - 1)"}},
        "y": {"field": "y", "type": "ordinal", "scale": {"domain": [0,1,2,3,4,5,6,7,8,9,10,11,12,13,14,15,16,17,18,19,20,21,22,23,24,25,26,27,28,29,30,31], "paddingInner": 0, "paddingOuter": 0}, "axis": {"values": [0,5,10,15,20,25,30]}},
        "fill": {"field": "color", "type": "nominal", "scale": null},
        "stroke": {"field": "color", "type": "nominal", "scale": null}
      }
    },
    {"width": 337, "height": 337, "data": {"values": [{}]}, "mark": {"type": "point", "opacity": 0}, "encoding": {"x": {"datum": 0, "type": "quantitative", "scale": {"domain": [0, 1], "nice": false, "zero": false}, "axis": {"values": [0, 0.2, 0.4, 0.6, 0.8, 1], "format": ".1f"}}, "y": {"datum": 0, "type": "quantitative", "scale": {"domain": [0, 1], "nice": false, "zero": false}, "axis": {"values": [0, 0.2, 0.4, 0.6, 0.8, 1], "format": ".1f"}}}},
    {"width": 337, "height": 337, "data": {"values": [{}]}, "mark": {"type": "point", "opacity": 0}, "encoding": {"x": {"datum": 0, "type": "quantitative", "scale": {"domain": [0, 1], "nice": false, "zero": false}, "axis": {"values": [0, 0.2, 0.4, 0.6, 0.8, 1], "format": ".1f"}}, "y": {"datum": 0, "type": "quantitative", "scale": {"domain": [0, 1], "nice": false, "zero": false}, "axis": {"values": [0, 0.2, 0.4, 0.6, 0.8, 1], "format": ".1f"}}}},
    {"width": 337, "height": 337, "data": {"values": [{}]}, "mark": {"type": "point", "opacity": 0}, "encoding": {"x": {"datum": 0, "type": "quantitative", "scale": {"domain": [0, 1], "nice": false, "zero": false}, "axis": {"values": [0, 0.2, 0.4, 0.6, 0.8, 1], "format": ".1f"}}, "y": {"datum": 0, "type": "quantitative", "scale": {"domain": [0, 1], "nice": false, "zero": false}, "axis": {"values": [0, 0.2, 0.4, 0.6, 0.8, 1], "format": ".1f"}}}},
    {"width": 337, "height": 337, "data": {"values": [{}]}, "mark": {"type": "point", "opacity": 0}, "encoding": {"x": {"datum": 0, "type": "quantitative", "scale": {"domain": [0, 1], "nice": false, "zero": false}, "axis": {"values": [0, 0.2, 0.4, 0.6, 0.8, 1], "format": ".1f"}}, "y": {"datum": 0, "type": "quantitative", "scale": {"domain": [0, 1], "nice": false, "zero": false}, "axis": {"values": [0, 0.2, 0.4, 0.6, 0.8, 1], "format": ".1f"}}}},
    {"width": 337, "height": 337, "data": {"values": [{}]}, "mark": {"type": "point", "opacity": 0}, "encoding": {"x": {"datum": 0, "type": "quantitative", "scale": {"domain": [0, 1], "nice": false, "zero": false}, "axis": {"values": [0, 0.2, 0.4, 0.6, 0.8, 1], "format": ".1f"}}, "y": {"datum": 0, "type": "quantitative", "scale": {"domain": [0, 1], "nice": false, "zero": false}, "axis": {"values": [0, 0.2, 0.4, 0.6, 0.8, 1], "format": ".1f"}}}},
    {"width": 337, "height": 337, "data": {"values": [{}]}, "mark": {"type": "point", "opacity": 0}, "encoding": {"x": {"datum": 0, "type": "quantitative", "scale": {"domain": [0, 1], "nice": false, "zero": false}, "axis": {"values": [0, 0.2, 0.4, 0.6, 0.8, 1], "format": ".1f"}}, "y": {"datum": 0, "type": "quantitative", "scale": {"domain": [0, 1], "nice": false, "zero": false}, "axis": {"values": [0, 0.2, 0.4, 0.6, 0.8, 1], "format": ".1f"}}}},
    {"width": 337, "height": 337, "data": {"values": [{}]}, "mark": {"type": "point", "opacity": 0}, "encoding": {"x": {"datum": 0, "type": "quantitative", "scale": {"domain": [0, 1], "nice": false, "zero": false}, "axis": {"values": [0, 0.2, 0.4, 0.6, 0.8, 1], "format": ".1f"}}, "y": {"datum": 0, "type": "quantitative", "scale": {"domain": [0, 1], "nice": false, "zero": false}, "axis": {"values": [0, 0.2, 0.4, 0.6, 0.8, 1], "format": ".1f"}}}},
    {"width": 337, "height": 337, "data": {"values": [{}]}, "mark": {"type": "point", "opacity": 0}, "encoding": {"x": {"datum": 0, "type": "quantitative", "scale": {"domain": [0, 1], "nice": false, "zero": false}, "axis": {"values": [0, 0.2, 0.4, 0.6, 0.8, 1], "format": ".1f"}}, "y": {"datum": 0, "type": "quantitative", "scale": {"domain": [0, 1], "nice": false, "zero": false}, "axis": {"values": [0, 0.2, 0.4, 0.6, 0.8, 1], "format": ".1f"}}}},
    {"width": 337, "height": 337, "data": {"values": [{}]}, "mark": {"type": "point", "opacity": 0}, "encoding": {"x": {"datum": 0, "type": "quantitative", "scale": {"domain": [0, 1], "nice": false, "zero": false}, "axis": {"values": [0, 0.2, 0.4, 0.6, 0.8, 1], "format": ".1f"}}, "y": {"datum": 0, "type": "quantitative", "scale": {"domain": [0, 1], "nice": false, "zero": false}, "axis": {"values": [0, 0.2, 0.4, 0.6, 0.8, 1], "format": ".1f"}}}},
    {"width": 337, "height": 337, "data": {"values": [{}]}, "mark": {"type": "point", "opacity": 0}, "encoding": {"x": {"datum": 0, "type": "quantitative", "scale": {"domain": [0, 1], "nice": false, "zero": false}, "axis": {"values": [0, 0.2, 0.4, 0.6, 0.8, 1], "format": ".1f"}}, "y": {"datum": 0, "type": "quantitative", "scale": {"domain": [0, 1], "nice": false, "zero": false}, "axis": {"values": [0, 0.2, 0.4, 0.6, 0.8, 1], "format": ".1f"}}}},
    {"width": 337, "height": 337, "data": {"values": [{}]}, "mark": {"type": "point", "opacity": 0}, "encoding": {"x": {"datum": 0, "type": "quantitative", "scale": {"domain": [0, 1], "nice": false, "zero": false}, "axis": {"values": [0, 0.2, 0.4, 0.6, 0.8, 1], "format": ".1f"}}, "y": {"datum": 0, "type": "quantitative", "scale": {"domain": [0, 1], "nice": false, "zero": false}, "axis": {"values": [0, 0.2, 0.4, 0.6, 0.8, 1], "format": ".1f"}}}},
    {"width": 337, "height": 337, "data": {"values": [{}]}, "mark": {"type": "point", "opacity": 0}, "encoding": {"x": {"datum": 0, "type": "quantitative", "scale": {"domain": [0, 1], "nice": false, "zero": false}, "axis": {"values": [0, 0.2, 0.4, 0.6, 0.8, 1], "format": ".1f"}}, "y": {"datum": 0, "type": "quantitative", "scale": {"domain": [0, 1], "nice": false, "zero": false}, "axis": {"values": [0, 0.2, 0.4, 0.6, 0.8, 1], "format": ".1f"}}}}
  ]
}
